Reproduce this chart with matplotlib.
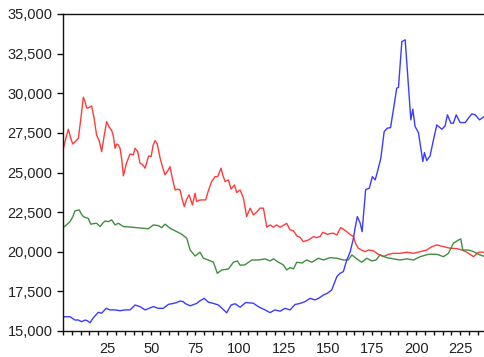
import matplotlib
matplotlib.use("Agg")
import matplotlib.pyplot as plt
from matplotlib.ticker import FixedLocator, MultipleLocator, FuncFormatter

red_x = [0, 1.5, 3, 4.3, 5.5, 7, 8.7, 10, 11.5, 12.4, 13.4, 14.8, 16.2, 17.5, 19, 20.5,
         21.9, 23.3, 24.7, 26, 27.6, 28.5, 29.5, 30.4, 31.3, 32.3, 33.3, 34.2, 36, 38,
         39.8, 40.8, 42.3, 43.6, 45, 46.5, 48.5, 49.9, 51, 52.1, 53.4, 55, 56.5, 57.8,
         59.3, 60.6, 62, 63.5, 65, 66.3, 67.5, 68.7, 70, 71.4, 73.3, 74.8, 75.7, 77,
         78.6, 80.8, 82.3, 84.2, 86.1, 87.6, 89.5, 90.6, 91.8, 93.7, 95.2, 97.1, 98.4,
         100.3, 102.2, 104, 106, 107.8, 109.7, 111.5, 113.5, 115.4, 117.3, 119.2, 121,
         123, 124.8, 126.7, 128.6, 130.5, 132.4, 134.3, 136.1, 139, 141.8, 143.5, 145.6,
         147.1, 149.7, 151.5, 153.1, 155.1, 157.3, 159, 160.7, 162.5, 164.5, 165.8,
         167.3, 169.2, 171.1, 173, 175.8, 178.6, 181.5, 184.3, 187.1, 191, 194.7, 198.5,
         202.3, 206, 208.9, 211.7, 215.5, 219.3, 223, 225.9, 228.7, 232.5, 235.3, 239]
red_y = [26430, 27100, 27730, 27200, 26800, 26950, 27160, 28300, 29750, 29500, 29060,
         29100, 29200, 28500, 27370, 27000, 26320, 27300, 28210, 27900, 27640, 27300,
         26530, 26800, 26740, 26530, 25800, 24790, 25620, 26170, 26110, 26530, 26320,
         25590, 25500, 25270, 26050, 26000, 26700, 27010, 26800, 25900, 25300, 24850,
         25100, 25370, 24600, 23900, 23950, 23900, 23300, 22850, 23300, 23590, 22950,
         23690, 23160, 23250, 23270, 23270, 23840, 24430, 24740, 24740, 25270, 24800,
         24430, 24530, 23950, 24220, 23730, 23900, 23380, 22220, 22750, 22320, 22500,
         22750, 22750, 21550, 21690, 21550, 21690, 21550, 21670, 21790, 21380, 21330,
         21000, 20910, 20640, 20740, 20950, 20900, 20950, 21230, 21100, 21150, 21170,
         21060, 21530, 21400, 21270, 21100, 20950, 20500, 20220, 20100, 20010, 20110,
         20060, 19840, 19690, 19840, 19900, 19900, 19970, 19900, 20010, 20110, 20320,
         20430, 20320, 20220, 20200, 20110, 19970, 19690, 19970, 19970]

green_x = [0, 2, 4, 5.5, 6.8, 9.2, 10.3, 11.5, 13, 14.3, 15.7, 17.5, 19, 21, 22.5, 23.8,
           25.7, 27.6, 29.5, 31.3, 34.2, 38, 41.8, 45.5, 48.3, 51.2, 54, 55.9, 57.8,
           60.6, 64.4, 67.3, 70.1, 72, 74.8, 77.6, 79.5, 82.3, 85.2, 87.4, 89.9, 93.7,
           96.5, 98.8, 100.3, 103, 106.9, 110.7, 114.4, 117.3, 119.2, 122, 124.8, 126.7,
           128.6, 130.5, 132.4, 135.2, 138, 140.9, 144.7, 147.5, 151.3, 155.1, 158.8,
           161.6, 163.6, 166.4, 169.2, 172, 174.9, 177.3, 179.6, 183.4, 187.1, 191,
           194.7, 198.5, 202.3, 207, 211.7, 215.5, 218.3, 221.1, 224, 225.3, 226.4,
           229.6, 232.5, 235.3, 239]
green_y = [21520, 21700, 21900, 22200, 22580, 22640, 22400, 22220, 22150, 22110, 21740,
           21780, 21800, 21590, 21800, 21940, 21900, 22010, 21690, 21800, 21590, 21560,
           21520, 21480, 21450, 21690, 21650, 21520, 21740, 21480, 21270, 21100, 20850,
           20110, 19730, 19970, 19590, 19480, 19340, 18640, 18850, 18910, 19340, 19420,
           19150, 19170, 19480, 19480, 19550, 19420, 19550, 19340, 19170, 18850, 19000,
           18920, 19340, 19290, 19480, 19340, 19590, 19480, 19630, 19590, 19480, 19480,
           19800, 19550, 19340, 19590, 19420, 19480, 19800, 19630, 19550, 19480, 19550,
           19480, 19690, 19840, 19840, 19690, 19900, 20540, 20740, 20810, 20110, 20110,
           20010, 19840, 19690]

blue_x = [0, 4, 6.8, 8.5, 10.6, 12.5, 13.8, 15.3, 17.2, 18.5, 20, 21.9, 24.4, 26.6, 29.5,
          32.3, 35.1, 38, 40.8, 43.6, 46.5, 49.3, 51.2, 54, 56.8, 59.7, 62.5, 64.5, 66.3,
          68.2, 69.1, 72, 73.5, 75.7, 77.5, 80, 82.3, 85.2, 88, 89.9, 92.7, 95.2, 97.5,
          100.3, 103.5, 107.8, 110.7, 114.4, 117.3, 120, 123, 125.8, 128.6, 131.4, 134.3,
          137, 140, 142.7, 144.7, 147.5, 149.7, 152.2, 155.1, 156.9, 158.8, 160.7, 162.6,
          164.5, 165.4, 166.7, 168.3, 169.4, 171.4, 173.5, 175.2, 176.8, 178.1, 180,
          181.9, 183.7, 185.5, 187.1, 189, 190, 191.9, 193.8, 195.6, 197, 198.1, 199.4,
          201.3, 203.8, 204.7, 206, 207.9, 209.8, 211.7, 214.6, 216.4, 217.7, 219.7,
          221.1, 222.7, 224.9, 227.8, 229.6, 231.6, 233.4, 235.9, 239.1]
blue_y = [15900, 15900, 15690, 15700, 15590, 15690, 15650, 15520, 15840, 16000, 16180,
          16120, 16430, 16330, 16330, 16280, 16330, 16330, 16640, 16540, 16330, 16460,
          16540, 16430, 16430, 16680, 16740, 16800, 16890, 16850, 16740, 16590, 16650,
          16740, 16900, 17060, 16820, 16740, 16640, 16450, 16150, 16640, 16720, 16500,
          16800, 16750, 16530, 16330, 16160, 16330, 16250, 16430, 16330, 16670, 16740,
          16850, 17060, 16960, 17060, 17270, 17380, 17590, 18430, 18640, 18750, 19480,
          19970, 20850, 21480, 22220, 21800, 21270, 23920, 24010, 24740, 24530, 25060,
          25900, 27580, 27800, 27830, 28950, 30320, 30370, 33260, 33370, 30530, 28320,
          28990, 27900, 27520, 25690, 26260, 25750, 26050, 27060, 28000, 27730, 27940,
          28640, 28110, 28110, 28640, 28150, 28150, 28430, 28700, 28640, 28320, 28570]

x_ticks = [25, 50, 75, 100, 125, 150, 175, 200, 225]

plt.rcParams['font.family'] = ['Liberation Sans', 'DejaVu Sans']

fig = plt.figure(figsize=(4.85, 3.57), dpi=100)
ax = fig.add_axes([63 / 485, 1 - 331 / 357, 1 - 63 / 485, (331 - 14) / 357])

ax.plot(red_x, red_y, color="#ff3c3c", lw=1.0)
ax.plot(green_x, green_y, color="#3f8f3f", lw=1.0)
ax.plot(blue_x, blue_y, color="#3c3cff", lw=1.0)

ax.set_xlim(0, 239)
ax.set_ylim(15000, 35000)
ax.xaxis.set_major_locator(FixedLocator(x_ticks))
ax.xaxis.set_minor_locator(MultipleLocator(5))
ax.yaxis.set_major_locator(MultipleLocator(2500))
ax.yaxis.set_major_formatter(FuncFormatter(lambda v, p: "{:,.0f}".format(v)))

ax.spines['right'].set_visible(False)
for s in ['left', 'top', 'bottom']:
    ax.spines[s].set_color("#111111")
    ax.spines[s].set_linewidth(1.0)

ax.tick_params(axis='y', direction='out', length=4.5, width=1.0, color="#111111",
               labelsize=10.5, labelcolor="#222222", pad=3)
ax.tick_params(axis='x', which='both', direction='out', length=3, width=1.0,
               color="#111111", labelsize=10.5, labelcolor="#222222", pad=5)

fig.savefig("out.png", dpi=100)
